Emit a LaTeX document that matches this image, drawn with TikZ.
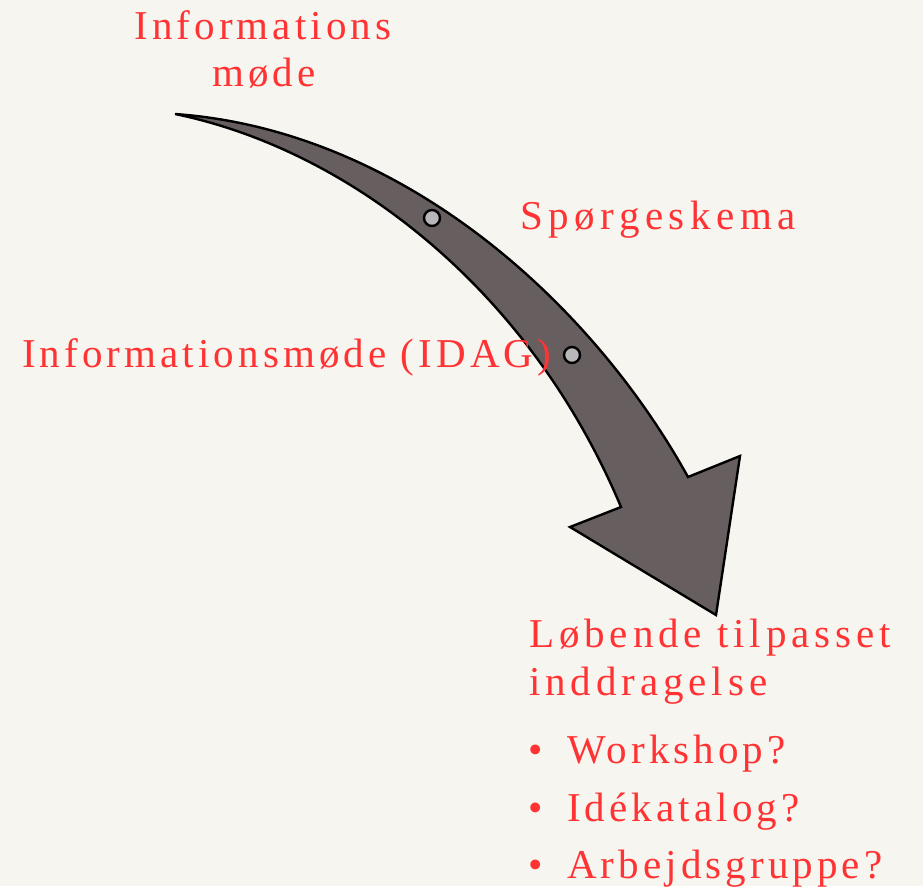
\documentclass[tikz,border=0pt]{standalone}
\usepackage{fontspec}
\setmainfont{Liberation Serif}
\newfontfamily\spacedfont[LetterSpace=10]{Liberation Serif}
\newfontfamily\widefont[LetterSpace=13.5]{Liberation Serif}
\newfontfamily\midfont[LetterSpace=12]{Liberation Serif}
\definecolor{bg}{RGB}{247,245,240}
\definecolor{txt}{RGB}{255,51,51}
\definecolor{arr}{RGB}{103,94,95}
\definecolor{dotc}{RGB}{184,182,184}
\begin{document}
\begin{tikzpicture}[x=1pt,y=-1pt,
  lbl/.style={text=txt, inner sep=0pt, font=\spacedfont\fontsize{41}{47}\selectfont},
  widelbl/.style={lbl, font=\widefont\fontsize{41}{47}\selectfont},
  midlbl/.style={lbl, font=\midfont\fontsize{41}{47}\selectfont},
  bigarrow/.style={draw=black, line width=2.4pt, fill=arr},
  marker/.style={circle, draw=black, line width=2.4pt, fill=dotc, minimum size=16pt, inner sep=0pt}]
\fill[bg] (0,0) rectangle (923,886);
\useasboundingbox (0,0) rectangle (923,886);
% arrow
\draw[bigarrow] (175,114) .. controls (400,130) and (590,300) .. (688,477)
  -- (740,456) -- (716,615) -- (570,527) -- (621,507)
  .. controls (530,290) and (350,150) .. cycle;
\node[marker] (m1) at (432,218) {};
\node[marker] (m2) at (572,355) {};
% labels
\node[lbl, anchor=base] (info1) at (263,39) {Informations};
\node[lbl, anchor=base] (info2) at (264,86) {møde};
\node[widelbl, anchor=base west] (sp) at (520,229) {Spørgeskema};
\node[lbl, anchor=base west] (idag) at (22,367) {Informationsmøde (IDAG)};
\node[midlbl, anchor=base west] (lob1) at (529,647) {Løbende tilpasset};
\node[midlbl, anchor=base west] (lob2) at (529,695) {inddragelse};
\node[lbl, anchor=base] (b1) at (536,763) {•};
\node[lbl, anchor=base west] (t1) at (567,763) {Workshop?};
\node[lbl, anchor=base] (b2) at (536,821) {•};
\node[lbl, anchor=base west] (t2) at (567,821) {Idékatalog?};
\node[lbl, anchor=base] (b3) at (536,878) {•};
\node[lbl, anchor=base west] (t3) at (567,878) {Arbejdsgruppe?};
\end{tikzpicture}
\end{document}
